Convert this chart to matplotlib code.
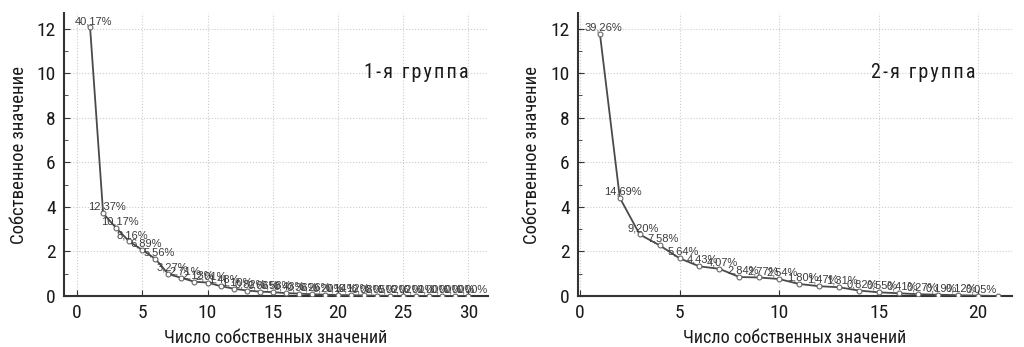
import numpy as np
import matplotlib.pyplot as plt
from matplotlib.ticker import MultipleLocator

# percent of explained variance per eigenvalue (30 variables in both groups)
n_vars = 30
pct_g1 = [40.17, 12.37, 10.17, 8.16, 6.89, 5.56, 3.27, 2.71, 2.13, 2.01,
          1.48, 1.10, 0.82, 0.66, 0.58, 0.43, 0.36, 0.26, 0.20, 0.14,
          0.12, 0.08, 0.05, 0.02, 0.02, 0.01, 0.00, 0.00, 0.00, 0.00]
pct_g2 = [39.26, 14.69, 9.20, 7.58, 5.64, 4.43, 4.07, 2.84, 2.77, 2.54,
          1.80, 1.47, 1.31, 0.82, 0.55, 0.41, 0.27, 0.19, 0.12, 0.05, 0.00]
labeled_g2 = 20   # last eigenvalue has no percent label
titles = ['1-я группа', '2-я группа']
xlims = [(-1, 31.5), (-0.1, 21.7)]

cond = ['Roboto Condensed', 'Liberation Sans Narrow', 'DejaVu Sans']
small = ['Liberation Sans', 'DejaVu Sans']

fig = plt.figure(figsize=(10.24, 3.47), dpi=100)
ax1 = fig.add_axes([64/1024, 1-296/347, 424/1024, 283/347])
ax2 = fig.add_axes([578/1024, 1-296/347, 434/1024, 283/347])

def scree(ax, pct, title, xlim, nlab, text_x):
    pct = np.array(pct)
    ev = pct / 100 * n_vars
    x = np.arange(1, len(ev) + 1)
    ax.plot(x, ev, color='#4a4a4a', lw=1.3, marker='o', ms=3.5,
            mfc='white', mec='#666666', mew=0.8, zorder=3)
    for xi, yi, p in zip(x[:nlab], ev[:nlab], pct[:nlab]):
        s = ('%.2f%%' % p).replace('.', ',')
        ax.annotate(s, (xi, yi), xytext=(2.5, 1), textcoords='offset points',
                    ha='center', va='bottom', fontsize=8, color='#3c3c3c',
                    family=small, zorder=4)
    ax.set_xlim(*xlim)
    ax.set_ylim(0, 12.7)
    ax.xaxis.set_major_locator(MultipleLocator(5))
    ax.yaxis.set_major_locator(MultipleLocator(2))
    ax.yaxis.set_minor_locator(MultipleLocator(1))
    ax.grid(True, which='major', ls=':', color='#cccccc', lw=0.8)
    for side in ['top', 'right']:
        ax.spines[side].set_visible(False)
    for side in ['left', 'bottom']:
        ax.spines[side].set_color('#333333')
        ax.spines[side].set_linewidth(1.5)
    ax.tick_params(which='both', direction='in', color='#333333', labelsize=14,
                   labelcolor='#1a1a1a', pad=6)
    ax.tick_params(which='major', length=4)
    ax.tick_params(which='minor', length=3)
    for lab in ax.get_xticklabels() + ax.get_yticklabels():
        lab.set_family(cond)
    ax.set_xlabel('Число собственных значений', fontsize=13, family=cond,
                  color='#1a1a1a')
    ax.set_ylabel('Собственное значение', fontsize=13.5, family=cond,
                  color='#1a1a1a')
    ax.xaxis.set_label_coords(0.5, -0.115)
    ax.yaxis.set_label_coords(-0.085, 0.5)
    # spaced-out letters for the group caption
    ax.text(text_x, 0.79, '\u200a'.join(title), transform=ax.transAxes,
            ha='center', va='center', fontsize=14.5, family=cond,
            color='#1a1a1a')

scree(ax1, pct_g1, titles[0], xlims[0], len(pct_g1), 0.83)
scree(ax2, pct_g2, titles[1], xlims[1], labeled_g2, 0.795)

fig.savefig('out.png', dpi=100)
